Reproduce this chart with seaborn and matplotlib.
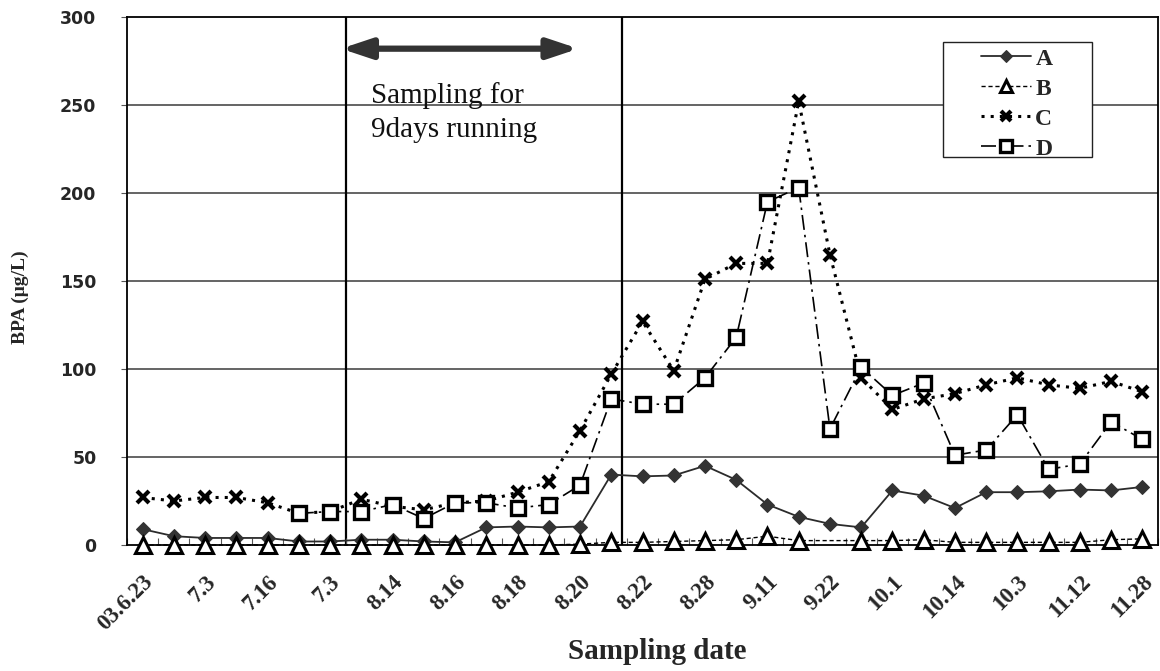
import matplotlib
matplotlib.use("Agg")
import matplotlib.pyplot as plt
import matplotlib.transforms as mtransforms
from matplotlib.patches import Rectangle
import seaborn as sns
import numpy as np
import pandas as pd

tick_labels = ["03.6.23", "7.3", "7.16", "7.3", "8.14", "8.16", "8.18", "8.20",
               "8.22", "8.28", "9.11", "9.22", "10.1", "10.14", "10.3", "11.12", "11.28"]

A = [9, 5, 4, 4, 4, 2, 2, 3, 3, 2, 1.5, 10, 10.5, 10, 10.5, 40, 39, 39.5, 45, 37, 23,
     16, 12, 10, 31, 28, 21, 30, 30, 30.5, 31.5, 31, 33]
B = [0, 0, 0, 0, 0, 0, 0, 0, 0, 0, 0, 0, 0, 0, 0.5, 1.5, 1.5, 2, 2.5, 3, 5,
     2.5, np.nan, 2.5, 2.5, 3, 1.5, 1.5, 1.5, 1.5, 1.5, 3, 3.5]
C = [27, 25, 27, 27, 24, 18, 19, 26, 22, 20, 24, 25, 30, 36, 65, 97, 127, 99, 151, 160, 160,
     252, 165, 95, 77, 83, 86, 91, 95, 91, 89, 93, 87]
D = [np.nan, np.nan, np.nan, np.nan, np.nan, 18, 19, 19, 23, 15, 24, 24, 21, 23, 34, 83,
     80, 80, 95, 118, 195, 203, 66, 101, 85, 92, 51, 54, 74, 43, 46, 70, 60]

n = len(A)
idx = np.arange(n)
df = pd.DataFrame({"x": idx, "A": A, "B": B, "C": C, "D": D})

sns.set_theme(style="white")
plt.rcParams["font.family"] = ["Liberation Serif", "DejaVu Serif"]

W, H = 1160, 671
fig = plt.figure(figsize=(W / 100, H / 100), dpi=100)
L, R, T, Bt = 127, 1158, 17, 545
ax = fig.add_axes([L / W, 1 - Bt / H, (R - L) / W, (Bt - T) / H])


def ax_x(px):
    return (px - L) / (R - L)


def ax_y(py):
    return (Bt - py) / (Bt - T)


# grid lines
for yv in [50, 100, 150, 200, 250]:
    ax.axhline(yv, color="#3a3a3a", lw=1.1, zorder=0)
ax.axvline(6.5, color="black", lw=1.6, zorder=0)
ax.axvline(15.33, color="black", lw=1.6, zorder=0)

dA = df[["x", "A"]].dropna()
dB = df[["x", "B"]].dropna()
dC = df[["x", "C"]].dropna()
dD = df[["x", "D"]].dropna()

sns.lineplot(data=dA, x="x", y="A", ax=ax, color="#2b2b2b", lw=1.3, marker="D",
             markersize=7.5, markerfacecolor="#333333", markeredgecolor="#333333",
             label="A", zorder=3, clip_on=False)
sns.lineplot(data=dB, x="x", y="B", ax=ax, color="black", lw=1.0, marker="^",
             markersize=11, markerfacecolor="white", markeredgecolor="black",
             markeredgewidth=2.2, label="B", zorder=4, clip_on=False)
ax.lines[-1].set_dashes([3, 2])
sns.lineplot(data=dC, x="x", y="C", ax=ax, color="black", lw=2.2, marker="x",
             markersize=9, markeredgewidth=3, markeredgecolor="black",
             label="C", zorder=3, clip_on=False)
ax.lines[-1].set_dashes([1, 2])
sns.lineplot(data=dD, x="x", y="D", ax=ax, color="black", lw=1.2, marker="s",
             markersize=10, markerfacecolor="white", markeredgecolor="black",
             markeredgewidth=2.4, label="D", zorder=3, clip_on=False)
ax.lines[-1].set_dashes([9, 3, 1.5, 3])

ax.set_xlim(-0.5, n - 0.5)
ax.set_ylim(0, 300)
ax.set_yticks(np.arange(0, 301, 50))
ax.set_yticklabels([str(v) for v in range(0, 301, 50)], family="DejaVu Sans",
                   fontweight="bold", fontsize=12.5)
ax.set_xticks(idx[::2])
ax.set_xticklabels(tick_labels, rotation=45, ha="right", rotation_mode="anchor",
                   fontweight="bold", fontsize=16.5)
offset = mtransforms.ScaledTranslation(-5 / 100, 0, fig.dpi_scale_trans)
for lab in ax.get_xticklabels():
    lab.set_transform(lab.get_transform() + offset)
ax.set_xticks(np.arange(-0.5, n, 1), minor=True)
ax.tick_params(axis="x", which="major", length=0, pad=19)
ax.tick_params(axis="x", which="minor", direction="in", length=5, width=0.8,
               color="#555555", bottom=True)
ax.tick_params(axis="y", which="major", direction="out", length=4, width=0.8,
               color="#555555", left=True, pad=18)

ax.set_xlabel("Sampling date", fontweight="bold", fontsize=21)
ax.xaxis.set_label_coords(ax_x(657), ax_y(638))
ax.set_ylabel("BPA (\u03bcg/L)", fontweight="bold", fontsize=14)
ax.yaxis.set_label_coords(ax_x(29), ax_y(297))

for s in ax.spines.values():
    s.set_color("black")
    s.set_linewidth(1.3)

# annotation arrow and text
ax.annotate("", xy=(6.35, 282), xytext=(13.95, 282),
            arrowprops=dict(arrowstyle="<|-|>,head_length=1.5,head_width=0.5",
                            color="#333333", lw=4.5, shrinkA=0, shrinkB=0))
ax.text(7.3, 246, "Sampling for\n9days running", fontsize=21, va="center",
        ha="left", linespacing=1.4, color="#111111")

# legend: manual frame + frameless legend
ax.add_patch(Rectangle((ax_x(943), ax_y(157)), ax_x(1092) - ax_x(943),
                       ax_y(42) - ax_y(157), transform=ax.transAxes,
                       facecolor="white", edgecolor="#222222", lw=1.0, zorder=5))
leg = ax.legend(loc="upper left", bbox_to_anchor=(ax_x(981), ax_y(48)),
                frameon=False, handlelength=2.1, handletextpad=0.2,
                labelspacing=0.36, borderpad=0, borderaxespad=0, markerscale=0.8,
                prop={"family": "Liberation Serif", "weight": "bold", "size": 17})
leg.set_zorder(6)

fig.savefig("out.png", dpi=100)
